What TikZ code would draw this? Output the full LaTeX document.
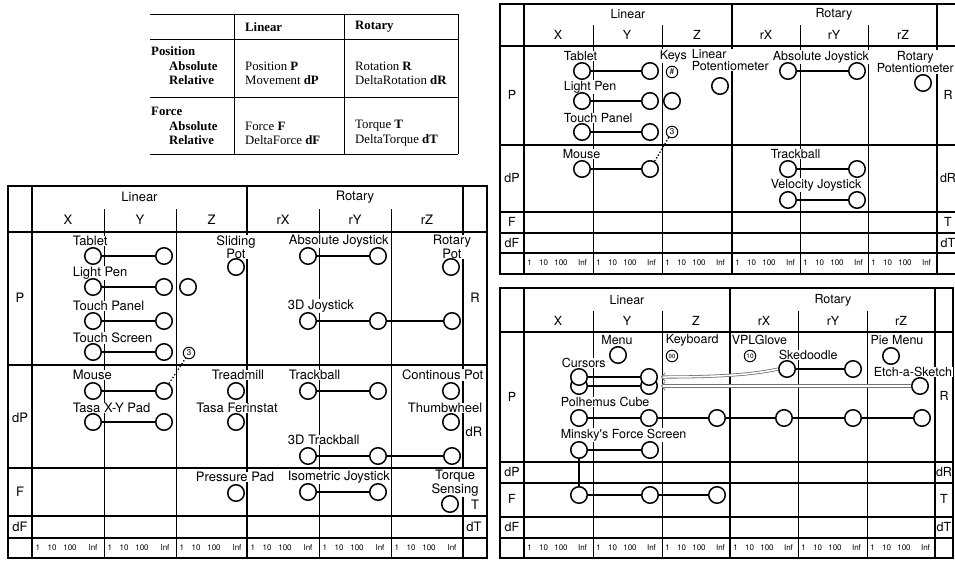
\documentclass[tikz,border=0pt]{standalone}
\usepackage{fontspec}
\setmainfont{Liberation Serif}
\newfontfamily\hv{TeX Gyre Heros}
\usetikzlibrary{arrows.meta}
\begin{document}
\begin{tikzpicture}[x=1pt,y=-1pt,
  bord/.style={line width=1.3pt},
  mainl/.style={line width=1.1pt},
  subl/.style={line width=0.8pt},
  dev/.style={circle,draw,line width=1.5pt,fill=white,minimum size=16.5pt,inner sep=0pt},
  sdev/.style={circle,draw,line width=1pt,fill=white,minimum size=11.5pt,inner sep=0pt,font=\hv\fontsize{8.5}{8.5}\selectfont},
  lblL/.style={fill=white,inner sep=0.6pt,font=\hv\fontsize{13}{12}\selectfont,align=center},
  lblR/.style={fill=white,inner sep=0.6pt,font=\hv\fontsize{12.5}{11.5}\selectfont,align=center},
  hdL/.style={inner sep=0pt,font=\hv\fontsize{13}{13}\selectfont},
  hdR/.style={inner sep=0pt,font=\hv\fontsize{12.5}{12.5}\selectfont},
  conn/.style={line width=1.2pt},
  dots/.style={dotted,line width=1.3pt},
  scl/.style={font=\hv\fontsize{8}{8}\selectfont, inner sep=0pt},
  tb/.style={font=\fontsize{12.8}{12.8}\selectfont, anchor=west, inner sep=0pt},
  tbl/.style={line width=0.9pt},
  dbl/.style={draw=black!55, line width=0.8pt, double=white, double distance=1.5pt},
  dtip/.style={-{Straight Barb[length=3.5pt,width=8pt]}},
]
\useasboundingbox (0,0) rectangle (955,560);
\clip (0,0) rectangle (955,560);

% ================= TABLE =================
\draw[tbl] (150,14)--(458,14) (150,39)--(458,39) (150,97)--(458,97) (150,154)--(458,154);
\draw[tbl] (234,14)--(234,154) (344,14)--(344,154) (458,14)--(458,154);
\node[tb] (tLin) at (245,27) {\textbf{Linear}};
\node[tb] (tRot) at (355,27) {\textbf{Rotary}};
\node[tb] (tPos) at (151,51) {\textbf{Position}};
\node[tb] (tAbs1) at (169,66) {\textbf{Absolute}};
\node[tb] (tRel1) at (169,80) {\textbf{Relative}};
\node[tb] (tForce) at (151,111) {\textbf{Force}};
\node[tb] (tAbs2) at (169,126) {\textbf{Absolute}};
\node[tb] (tRel2) at (169,140) {\textbf{Relative}};
\node[tb] (tPP) at (245,66) {Position \textbf{P}};
\node[tb] (tMd) at (245,80) {Movement \textbf{dP}};
\node[tb] (tRR) at (355,66) {Rotation \textbf{R}};
\node[tb] (tDR) at (355,80) {DeltaRotation \textbf{dR}};
\node[tb] (tFF) at (245,126) {Force \textbf{F}};
\node[tb] (tDF) at (245,140) {DeltaForce \textbf{dF}};
\node[tb] (tTT) at (355,126) {Torque \textbf{T}};
\node[tb] (tDT) at (355,140) {DeltaTorque \textbf{dT}};

% ================= LEFT DIAGRAM =================
\draw[bord] (8,186) rectangle (487,558);
\draw[mainl] (32,186)--(32,558) (247,186)--(247,558) (463,186)--(463,558);
\draw[subl] (104,209)--(104,558) (176,209)--(176,558) (319,209)--(319,558) (391,209)--(391,558);
\draw[bord] (8,232)--(487,232);
\draw[mainl] (8,365)--(487,365) (8,468)--(487,468) (8,516)--(487,516) (8,538)--(487,538);

\node[hdL] (Llin) at (139.5,197) {Linear};
\node[hdL] (Lrot) at (355,197) {Rotary};
\node[hdL] (LX) at (68,220) {X};
\node[hdL] (LY) at (140,220) {Y};
\node[hdL] (LZ) at (211.5,220) {Z};
\node[hdL] (LrX) at (283,220) {rX};
\node[hdL] (LrY) at (355,220) {rY};
\node[hdL] (LrZ) at (427,220) {rZ};
\node[hdL] (LP) at (20,298) {P};
\node[hdL] (LdP) at (20,418) {dP};
\node[hdL] (LF) at (20,492) {F};
\node[hdL] (LdF) at (20,527) {dF};
\node[hdL] (LR) at (475,298) {R};
\node[hdL] (LdR) at (474,432) {dR};
\node[hdL] (LT) at (475,505) {T};
\node[hdL] (LdT) at (474,527) {dT};
\foreach \c [count=\i] in {32,104,176,247,319,391}{
  \node[scl] (Ls\i a) at (\c+5.8,548) {1};
  \node[scl] (Ls\i b) at (\c+20,548) {10};
  \node[scl] (Ls\i c) at (\c+38,548) {100};
  \node[scl] (Ls\i d) at (\c+61,548) {Inf};
}

\node[lblL,anchor=west] (lTab) at (72,241) {Tablet};
\node[lblL,anchor=west] (lLP) at (72,273) {Light Pen};
\node[lblL,anchor=west] (lTP) at (72,306) {Touch Panel};
\node[lblL,anchor=west] (lTS) at (72,338) {Touch Screen};
\node[lblL] (lSP) at (236,247) {Sliding\\Pot};
\node[lblL,anchor=west] (lAJ) at (288,241) {Absolute Joystick};
\node[lblL] (lRP) at (452,247) {Rotary\\Pot};
\node[lblL,anchor=west] (l3J) at (287,306) {3D Joystick};
\node[lblL,anchor=west] (lMs) at (72,375) {Mouse};
\node[lblL,anchor=west] (lTX) at (72,408) {Tasa X-Y Pad};
\node[lblL] (lTm) at (238,375) {Treadmill};
\node[lblL] (lTF) at (237,408) {Tasa Ferinstat};
\node[lblL,anchor=west] (lTb) at (288,375) {Trackball};
\node[lblL,anchor=east] (lCP) at (484,375) {Continous Pot};
\node[lblL,anchor=east] (lTw) at (483,408) {Thumbwheel};
\node[lblL,anchor=west] (l3T) at (287,440) {3D Trackball};
\node[lblL] (lPP) at (235,477) {Pressure Pad};
\node[lblL,anchor=west] (lIJ) at (287,477) {Isometric Joystick};
\node[lblL] (lTq) at (455,483) {Torque\\Sensing};

\node[dev] (a1) at (93,256) {};
\node[dev] (a2) at (164,256) {};
\node[dev] (b1) at (93,287) {};
\node[dev] (b2) at (164,287) {};
\node[dev] (b3) at (188,287) {};
\node[dev] (c1) at (93,321) {};
\node[dev] (c2) at (164,321) {};
\node[dev] (d1) at (93,352) {};
\node[dev] (d2) at (164,352) {};
\node[sdev] (d3) at (189,353) {3};
\node[dev] (sp) at (236,267) {};
\node[dev] (e1) at (308,256) {};
\node[dev] (e2) at (378,256) {};
\node[dev] (rp) at (451,267) {};
\node[dev] (f1) at (308,321) {};
\node[dev] (f2) at (378,321) {};
\node[dev] (f3) at (452,321) {};
\node[dev] (g1) at (93,391) {};
\node[dev] (g2) at (164,391) {};
\node[dev] (h1) at (93,422) {};
\node[dev] (h2) at (164,422) {};
\node[dev] (tm) at (236,391) {};
\node[dev] (tf) at (236,422) {};
\node[dev] (i1) at (308,391) {};
\node[dev] (i2) at (378,391) {};
\node[dev] (cp) at (451,391) {};
\node[dev] (tw) at (451,422) {};
\node[dev] (j1) at (308,456) {};
\node[dev] (j2) at (378,456) {};
\node[dev] (j3) at (452,456) {};
\node[dev] (pp) at (236,493) {};
\node[dev] (k1) at (308,492) {};
\node[dev] (k2) at (378,492) {};
\node[dev] (tq) at (450,504) {};

\draw[conn] (a1)--(a2) (b1)--(b2) (c1)--(c2) (d1)--(d2) (e1)--(e2)
  (f1)--(f2)--(f3) (g1)--(g2) (h1)--(h2) (i1)--(i2) (j1)--(j2)--(j3) (k1)--(k2);
\draw[dots] (g2)--(d3);

% ================= TOP RIGHT DIAGRAM =================
\draw[bord] (500,4) rectangle (962,274);
\draw[mainl] (524,4)--(524,274) (732,4)--(732,274) (937,4)--(937,274);
\draw[subl] (593,25)--(593,274) (662,25)--(662,274) (800,25)--(800,274) (868,25)--(868,274);
\draw[bord] (500,46)--(962,46);
\draw[mainl] (500,145)--(962,145) (500,212)--(962,212) (500,233)--(962,233) (500,253)--(962,253);

\node[hdR] (Tlin) at (628,14) {Linear};
\node[hdR] (Trot) at (834,14) {Rotary};
\node[hdR] (TX) at (558,35) {X};
\node[hdR] (TY) at (627,35) {Y};
\node[hdR] (TZ) at (697,35) {Z};
\node[hdR] (TrX) at (766,35) {rX};
\node[hdR] (TrY) at (834,35) {rY};
\node[hdR] (TrZ) at (903,35) {rZ};
\node[hdR] (TP) at (512,95) {P};
\node[hdR] (TdP) at (512,178) {dP};
\node[hdR] (TF) at (512,222) {F};
\node[hdR] (TdF) at (512,243) {dF};
\node[hdR] (TR) at (948,95) {R};
\node[hdR] (TdR) at (948,178) {dR};
\node[hdR] (TT) at (948,222) {T};
\node[hdR] (TdT) at (948,243) {dT};
\foreach \c [count=\i] in {524,593,662,732,800,868}{
  \node[scl] (Ts\i a) at (\c+5.5,263) {1};
  \node[scl] (Ts\i b) at (\c+19.5,263) {10};
  \node[scl] (Ts\i c) at (\c+37,263) {100};
  \node[scl] (Ts\i d) at (\c+58.5,263) {Inf};
}

\node[lblR,anchor=west] (rTab) at (563,56) {Tablet};
\node[lblR,anchor=west] (rKeys) at (659,56) {Keys};
\node[lblR,anchor=north west,align=left] (rLinPot) at (691,49) {Linear\\Potentiometer};
\node[lblR,anchor=west] (rLP) at (563,87) {Light Pen};
\node[lblR,anchor=west] (rTP) at (563,118) {Touch Panel};
\node[lblR,anchor=west] (rAJ) at (772,57) {Absolute Joystick};
\node[lblR,anchor=east] (rRP) at (954.5,62) {Rotary\\Potentiometer};
\node[lblR,anchor=west] (rMs) at (562,154) {Mouse};
\node[lblR,anchor=west] (rTb) at (770,154) {Trackball};
\node[lblR,anchor=west] (rVJ) at (770,185) {Velocity Joystick};

\node[dev] (ta1) at (582,71) {};
\node[dev] (ta2) at (650,71) {};
\node[sdev] (tkey) at (672,72) {\#};
\node[dev] (tlpot) at (720,86) {};
\node[dev] (tb1) at (582,101) {};
\node[dev] (tb2) at (650,101) {};
\node[dev] (tb3) at (672,101) {};
\node[dev] (tc1) at (582,132) {};
\node[dev] (tc2) at (650,132) {};
\node[sdev] (tc3) at (672,132) {3};
\node[dev] (td1) at (788,71) {};
\node[dev] (td2) at (857,71) {};
\node[dev] (trpot) at (923,83) {};
\node[dev] (te1) at (582,169) {};
\node[dev] (te2) at (650,169) {};
\node[dev] (tf1) at (788,169) {};
\node[dev] (tf2) at (857,169) {};
\node[dev] (tg1) at (788,200) {};
\node[dev] (tg2) at (857,200) {};
\draw[conn] (ta1)--(ta2) (tb1)--(tb2) (tc1)--(tc2) (td1)--(td2) (te1)--(te2) (tf1)--(tf2) (tg1)--(tg2);
\draw[dots] (te2)--(tc3);

% ================= BOTTOM RIGHT DIAGRAM =================
\draw[bord] (500,288) rectangle (953,558);
\draw[mainl] (524,288)--(524,558) (730,288)--(730,558) (935,288)--(935,558);
\draw[subl] (593,311)--(593,558) (662,311)--(662,558) (798,311)--(798,558) (867,311)--(867,558);
\draw[bord] (500,332)--(953,332);
\draw[mainl] (500,462)--(953,462) (500,483)--(953,483) (500,517)--(953,517) (500,538)--(953,538);

\node[hdR] (Blin) at (627,300) {Linear};
\node[hdR] (Brot) at (833,300) {Rotary};
\node[hdR] (BX) at (558,321) {X};
\node[hdR] (BY) at (627,321) {Y};
\node[hdR] (BZ) at (696,321) {Z};
\node[hdR] (BrX) at (764,321) {rX};
\node[hdR] (BrY) at (833,321) {rY};
\node[hdR] (BrZ) at (901,321) {rZ};
\node[hdR] (BP) at (512,397) {P};
\node[hdR] (BdP) at (512,472) {dP};
\node[hdR] (BF) at (512,499) {F};
\node[hdR] (BdF) at (512,527) {dF};
\node[hdR] (BR) at (944,396) {R};
\node[hdR] (BdR) at (944,472) {dR};
\node[hdR] (BT) at (944,499) {T};
\node[hdR] (BdT) at (944,527) {dT};
\foreach \c [count=\i] in {524,593,662,730,798,867}{
  \node[scl] (Bs\i a) at (\c+5.5,548) {1};
  \node[scl] (Bs\i b) at (\c+19.5,548) {10};
  \node[scl] (Bs\i c) at (\c+37,548) {100};
  \node[scl] (Bs\i d) at (\c+58.5,548) {Inf};
}

\node[lblR] (bMenu) at (617,340) {Menu};
\node[lblR,anchor=west] (bKb) at (665,340) {Keyboard};
\node[lblR,anchor=west] (bVPL) at (731,340) {VPLGlove};
\node[lblR] (bPie) at (897,340) {Pie Menu};
\node[lblR,anchor=west] (bCur) at (561,363) {Cursors};
\node[lblR,anchor=west] (bSk) at (778,355) {Skedoodle};
\node[lblR,anchor=west] (bEtch) at (873,372) {Etch-a-Sketch};
\node[lblR,anchor=west] (bPC) at (560,402) {Polhemus Cube};
\node[lblR,anchor=west] (bMF) at (560,435) {Minsky's Force Screen};

\node[dev] (menu) at (618,355) {};
\node[sdev,font=\hv\fontsize{6}{6}\selectfont] (kb) at (672,356) {90};
\node[sdev,font=\hv\fontsize{6.5}{6.5}\selectfont] (vpl) at (750,356) {10};
\node[dev] (pie) at (891,356) {};
\node[dev] (cu1b) at (579,386) {};
\node[dev] (cu2b) at (649,386) {};
\node[dev] (cu1a) at (579,377) {};
\node[dev] (cu2a) at (649,377) {};
\node[dev] (sk1) at (787,369) {};
\node[dev] (sk2) at (853,369) {};
\node[dev] (etch) at (920,386) {};
\node[dev] (pc1) at (579,418) {};
\node[dev] (pc2) at (649,418) {};
\node[dev] (pc3) at (717,418) {};
\node[dev] (pc4) at (784,418) {};
\node[dev] (pc5) at (853,418) {};
\node[dev] (pc6) at (922,418) {};
\node[dev] (mf1) at (579,450) {};
\node[dev] (mf2) at (650,450) {};
\node[dev] (fr1) at (579,495) {};
\node[dev] (fr2) at (650,495) {};
\node[dev] (fr3) at (717,495) {};

\draw[conn] (cu1b)--(cu2b) (cu1a)--(cu2a) (sk1)--(sk2)
  (pc1)--(pc2)--(pc3)--(pc4)--(pc5)--(pc6) (mf1)--(mf2) (mf1)--(fr1) (fr1)--(fr2)--(fr3);
\draw[dbl,dtip] (sk1.west) .. controls +(-30,7) and +(40,0) .. ([xshift=3pt]cu2a.east);
\draw[dbl,dtip] (etch.west) -- ([xshift=3pt]cu2b.east);
\end{tikzpicture}
\end{document}
